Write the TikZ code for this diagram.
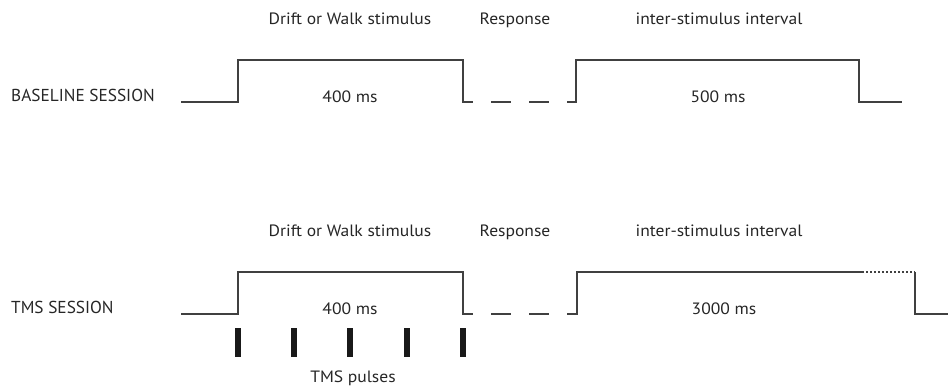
\documentclass[tikz,border=0pt]{standalone}
\usepackage{fontspec}
\setmainfont{PT Sans}
\newfontfamily\lblfont[FakeStretch=1.07]{PT Sans}
\begin{document}
\begin{tikzpicture}[x=1pt,y=-1pt,
  wave/.style={draw=black!75,line width=1.4pt,line join=miter},
  lbl/.style={text=black!85,font=\lblfont\fontsize{16.4}{18}\selectfont,inner sep=0pt,anchor=base},
  caplbl/.style={text=black!85,font=\rmfamily\fontsize{17.3}{19}\selectfont,inner sep=0pt,anchor=base west},
  pulse/.style={fill=black!90,draw=none}]
\useasboundingbox (0,0) rectangle (948,387);
% ---------- baseline session ----------
\node[caplbl] (bs) at (11,102) {BASELINE SESSION};
\node[lbl] (d1) at (350,25) {Drift or Walk stimulus};
\node[lbl] (r1) at (515,25) {Response};
\node[lbl] (i1) at (719,25) {inter-stimulus interval};
\node[lbl] (t1) at (350,103) {400 ms};
\node[lbl] (t2) at (718,103) {500 ms};
\draw[wave] (181,102) -- (238,102) -- (238,60) -- (463,60) -- (463,102) -- (473,102);
\draw[wave] (491,102) -- (511,102);
\draw[wave] (529,102) -- (549,102);
\draw[wave] (567,102) -- (576,102) -- (576,60) -- (859,60) -- (859,102) -- (902,102);
% ---------- TMS session ----------
\node[caplbl] (ts) at (11,314) {TMS SESSION};
\node[lbl] (d2) at (350,237) {Drift or Walk stimulus};
\node[lbl] (r2) at (515,237) {Response};
\node[lbl] (i2) at (719,237) {inter-stimulus interval};
\node[lbl] (t3) at (350,315) {400 ms};
\node[lbl] (t4) at (724,315) {3000 ms};
\draw[wave] (181,314) -- (238,314) -- (238,272) -- (463,272) -- (463,314) -- (473,314);
\draw[wave] (491,314) -- (511,314);
\draw[wave] (529,314) -- (549,314);
\draw[wave] (567,314) -- (577,314) -- (577,272) -- (862,272);
\draw[wave,line width=1.2pt,dash pattern=on 2pt off 2pt] (862,272) -- (915,272);
\draw[wave] (915,272) -- (915,314) -- (948,314);
\foreach \px in {238,294,350,407,463}
  \path[pulse] (\px-3.2,328) rectangle (\px+3.2,357);
\node[lbl] (tp) at (353,382) {TMS pulses};
\end{tikzpicture}
\end{document}
